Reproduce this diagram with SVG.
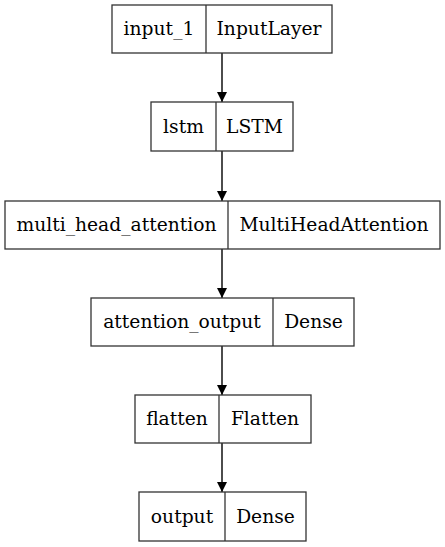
<svg xmlns="http://www.w3.org/2000/svg" width="445" height="547" viewBox="0 0 445 547">
<defs>
<marker id="ah" markerWidth="10" markerHeight="11" refX="10" refY="5" orient="auto" markerUnits="userSpaceOnUse">
<path d="M0,0 L10,5 L0,10 Z" fill="#000"/>
</marker>
<style>
.box{fill:#fff;stroke:#333;stroke-width:1.3}
.div{stroke:#333;stroke-width:1.3}
text{font-family:"DejaVu Serif","Liberation Serif",serif;font-size:18.7px;fill:#000;text-anchor:middle}
.edge{stroke:#000;stroke-width:1.4;fill:none}
</style>
</defs>
<rect width="445" height="547" fill="#fff"/>
<g id="connectors">
<line class="edge" x1="222" y1="53" x2="222" y2="102" marker-end="url(#ah)"/>
<line class="edge" x1="222" y1="151" x2="222" y2="201" marker-end="url(#ah)"/>
<line class="edge" x1="222" y1="249" x2="222" y2="298" marker-end="url(#ah)"/>
<line class="edge" x1="222" y1="346" x2="222" y2="395" marker-end="url(#ah)"/>
<line class="edge" x1="222" y1="443" x2="222" y2="492" marker-end="url(#ah)"/>
</g>
<g id="input_1">
<rect class="box" x="112" y="5" width="220" height="48"/>
<line class="div" x1="206" y1="5" x2="206" y2="53"/>
<text x="159" y="35">input_1</text>
<text x="269" y="35">InputLayer</text>
</g>
<g id="lstm">
<rect class="box" x="151" y="102" width="142" height="49"/>
<line class="div" x1="216" y1="102" x2="216" y2="151"/>
<text x="183.5" y="133">lstm</text>
<text x="254.5" y="133">LSTM</text>
</g>
<g id="multi_head_attention">
<rect class="box" x="5" y="201" width="435" height="48"/>
<line class="div" x1="228" y1="201" x2="228" y2="249"/>
<text x="116.5" y="231">multi_head_attention</text>
<text x="334" y="231">MultiHeadAttention</text>
</g>
<g id="attention_output">
<rect class="box" x="91" y="298" width="263" height="48"/>
<line class="div" x1="273" y1="298" x2="273" y2="346"/>
<text x="182" y="328">attention_output</text>
<text x="313.5" y="328">Dense</text>
</g>
<g id="flatten">
<rect class="box" x="135" y="395" width="176" height="48"/>
<line class="div" x1="219" y1="395" x2="219" y2="443"/>
<text x="177" y="425">flatten</text>
<text x="265" y="425">Flatten</text>
</g>
<g id="output">
<rect class="box" x="139" y="492" width="167" height="49"/>
<line class="div" x1="225" y1="492" x2="225" y2="541"/>
<text x="182" y="523">output</text>
<text x="265.5" y="523">Dense</text>
</g>
</svg>
